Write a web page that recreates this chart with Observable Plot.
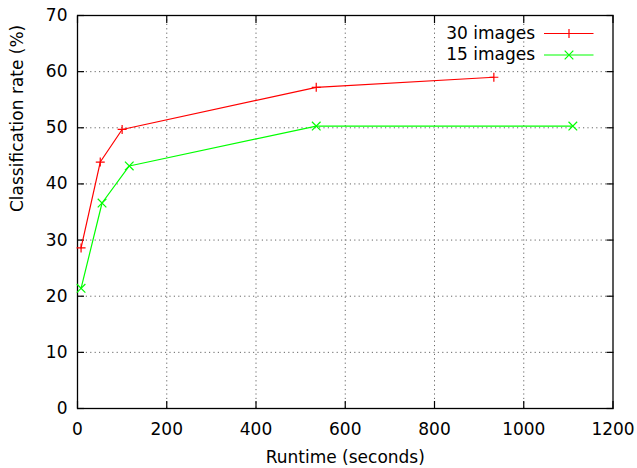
<!DOCTYPE html>
<html><head><meta charset="utf-8">
<script src="https://cdn.jsdelivr.net/npm/d3@7"></script>
<script src="https://cdn.jsdelivr.net/npm/@observablehq/plot@0.6"></script>
<style>body{margin:0;background:#fff} svg{display:block}</style>
</head><body><div id="chart"></div>
<script>
const seriesNames = ["30 images", "15 images"];
const runtime30 = [8, 51, 100, 535, 933];
const rate30 = [28.6, 43.9, 49.7, 57.2, 59.0];
const runtime15 = [8, 55, 116, 535, 1110];
const rate15 = [21.4, 36.6, 43.2, 50.3, 50.3];
const xTicks = [0, 200, 400, 600, 800, 1000, 1200];
const yTicks = [0, 10, 20, 30, 40, 50, 60, 70];
const xGrid = [200, 400, 600, 800, 1000];
const yGrid = [10, 20, 30, 40, 50, 60];
const xLabel = "Runtime (seconds)";
const yLabel = "Classification rate (%)";

const colors = ["#ff0000", "#00ff00"];
const symbols = ["plus", "times"];
const radii = [3, 4];

const data = [
  ...runtime30.map((x, i) => ({series: seriesNames[0], x, y: rate30[i]})),
  ...runtime15.map((x, i) => ({series: seriesNames[1], x, y: rate15[i]}))
];
const legend = seriesNames.map((name, i) => ({name, i}));

const font = "DejaVu Sans, sans-serif";
const fs = 17;
const noText = () => "";
const intFmt = d3.format("d");

const marks = [
  Plot.gridX(xGrid, {stroke: "#666", strokeOpacity: 1, strokeDasharray: "1.2,3.2", strokeWidth: 1}),
  Plot.gridY(yGrid, {stroke: "#666", strokeOpacity: 1, strokeDasharray: "1.2,3.2", strokeWidth: 1}),
  // inward ticks on all four sides
  Plot.axisX(xTicks, {anchor: "bottom", tickSize: -7, tickFormat: noText, label: null, strokeWidth: 1.2}),
  Plot.axisX(xTicks, {anchor: "top", tickSize: -7, tickFormat: noText, label: null, strokeWidth: 1.2}),
  Plot.axisY(yTicks, {anchor: "left", tickSize: -7, tickFormat: noText, label: null, strokeWidth: 1.2}),
  Plot.axisY(yTicks, {anchor: "right", tickSize: -7, tickFormat: noText, label: null, strokeWidth: 1.2}),
  // tick labels
  Plot.axisX(xTicks, {anchor: "bottom", tickSize: 0, tickPadding: 14, tickFormat: intFmt, label: null, fontSize: fs, fill: "#000"}),
  Plot.axisY(yTicks, {anchor: "left", tickSize: 0, tickPadding: 10, tickFormat: intFmt, label: null, fontSize: fs, fill: "#000"}),
  Plot.frame({stroke: "#000", strokeWidth: 1.3}),
  // series
  ...seriesNames.map((name, i) =>
    Plot.line(data.filter(d => d.series === name), {x: "x", y: "y", stroke: colors[i], strokeWidth: 1.2})),
  ...seriesNames.map((name, i) =>
    Plot.dot(data.filter(d => d.series === name), {x: "x", y: "y", symbol: () => symbols[i], stroke: colors[i], r: radii[i], strokeWidth: 1.2})),
  // legend
  ...legend.map(({name, i}) => Plot.text([name], {text: d => d, frameAnchor: "top-right", textAnchor: "end", lineAnchor: "middle", dx: -78, dy: 18 + 21.5 * i, fontSize: fs, fill: "#000"})),
  ...legend.map(({name, i}) => Plot.ruleY([yTicks[yTicks.length - 1]], {dy: 18 + 21.5 * i, insetLeft: 467, insetRight: 19, stroke: colors[i], strokeWidth: 1.2})),
  ...legend.map(({name, i}) => Plot.dot([name], {frameAnchor: "top-right", dx: -44, dy: 18 + 21.5 * i, symbol: symbols[i], r: radii[i], stroke: colors[i], strokeWidth: 1.2})),
  // axis titles
  Plot.text([xLabel], {text: d => d, frameAnchor: "bottom", lineAnchor: "middle", dy: 49, fontSize: fs, fill: "#000"}),
  Plot.text([yLabel], {text: d => d, frameAnchor: "left", lineAnchor: "middle", dx: -60, rotate: -90, fontSize: fs, fill: "#000"})
];

const chart = Plot.plot({
  width: 637,
  height: 468,
  marginLeft: 77,
  marginRight: 24.5,
  marginTop: 15,
  marginBottom: 60,
  style: {fontFamily: font, fontSize: fs + "px", background: "#fff", color: "#000"},
  x: {domain: [xTicks[0], xTicks[xTicks.length - 1]], axis: null},
  y: {domain: [yTicks[0], yTicks[yTicks.length - 1]], axis: null},
  marks
});
document.getElementById("chart").appendChild(chart);
</script>
</body></html>
